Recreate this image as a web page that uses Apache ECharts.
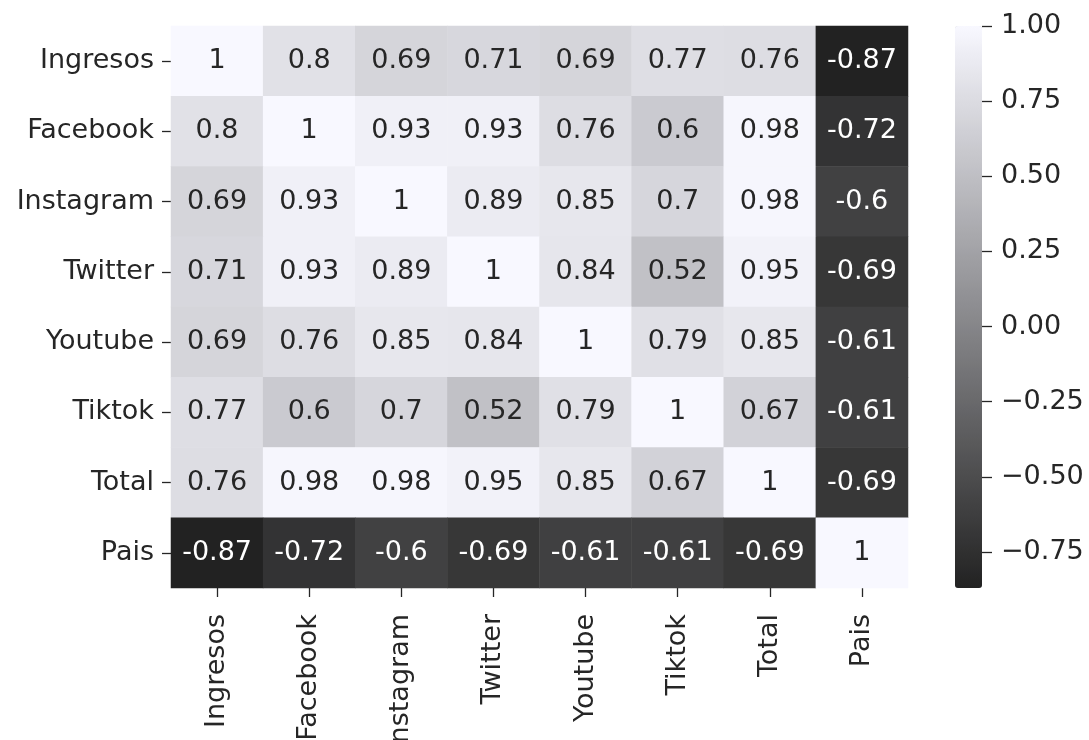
<!DOCTYPE html>
<html>
<head>
<meta charset="utf-8">
<script src="https://cdn.jsdelivr.net/npm/echarts@6/dist/echarts.min.js"></script>
<style>
  html, body { margin: 0; padding: 0; background: #fff; }
  #chart { width: 1089px; height: 740px; }
</style>
</head>
<body>
<div id="chart"></div>
<script>
// variables of the correlation matrix (rows and columns)
const variables = ['Ingresos', 'Facebook', 'Instagram', 'Twitter', 'Youtube', 'Tiktok', 'Total', 'Pais']

const ingresos = [1, 0.8, 0.69, 0.71, 0.69, 0.77, 0.76, -0.87]
const facebook = [0.8, 1, 0.93, 0.93, 0.76, 0.6, 0.98, -0.72]
const instagram = [0.69, 0.93, 1, 0.89, 0.85, 0.7, 0.98, -0.6]
const twitter = [0.71, 0.93, 0.89, 1, 0.84, 0.52, 0.95, -0.69]
const youtube = [0.69, 0.76, 0.85, 0.84, 1, 0.79, 0.85, -0.61]
const tiktok = [0.77, 0.6, 0.7, 0.52, 0.79, 1, 0.67, -0.61]
const total = [0.76, 0.98, 0.98, 0.95, 0.85, 0.67, 1, -0.69]
const pais = [-0.87, -0.72, -0.6, -0.69, -0.61, -0.61, -0.69, 1]

const rows = [ingresos, facebook, instagram, twitter, youtube, tiktok, total, pais]

// colorbar ticks
const cbarTicks = [-0.75, -0.5, -0.25, 0, 0.25, 0.5, 0.75, 1]
const cbarMin = -0.87
const cbarMax = 1

const textColor = '#262626'
const fontFamily = 'DejaVu Sans'
const fontSize = 27

const cells = []
rows.forEach((row, y) => {
  row.forEach((v, x) => {
    cells.push([x, y, v])
  })
})

const chart = echarts.init(document.getElementById('chart'))

const tickStyle = { color: textColor, width: 1.3 }

const option = {
  animation: false,
  textStyle: { fontFamily: fontFamily },
  grid: [
    { left: 171, top: 26, width: 737, height: 562, outerBoundsMode: 'none', containLabel: false },
    { left: 955, top: 26, width: 27, height: 562, outerBoundsMode: 'none', containLabel: false }
  ],
  xAxis: [
    {
      type: 'category',
      gridIndex: 0,
      data: variables,
      axisLine: { show: false },
      axisTick: { show: true, alignWithLabel: true, length: 9, lineStyle: tickStyle },
      axisLabel: { rotate: 90, fontSize: fontSize, color: textColor, margin: 26, fontFamily: fontFamily },
      splitArea: { show: false },
      splitLine: { show: false }
    },
    { type: 'value', gridIndex: 1, show: false, min: 0, max: 1 }
  ],
  yAxis: [
    {
      type: 'category',
      gridIndex: 0,
      data: variables,
      inverse: true,
      axisLine: { show: false },
      axisTick: { show: true, alignWithLabel: true, length: 9, lineStyle: tickStyle },
      axisLabel: { fontSize: fontSize, color: textColor, margin: 17, fontFamily: fontFamily },
      splitArea: { show: false },
      splitLine: { show: false }
    },
    {
      type: 'value',
      gridIndex: 1,
      position: 'right',
      min: cbarMin,
      max: cbarMax,
      axisLine: { show: true, onZero: false, lineStyle: { color: '#ffffff', opacity: 0 } },
      splitLine: { show: false },
      axisTick: {
        show: true,
        inside: false,
        length: 10,
        customValues: cbarTicks,
        lineStyle: tickStyle
      },
      axisLabel: {
        show: true,
        customValues: cbarTicks,
        fontSize: fontSize,
        color: textColor,
        margin: 19,
        fontFamily: fontFamily,
        formatter: function (v) {
          return (v < 0 ? '\u2212' : '') + Math.abs(v).toFixed(2)
        }
      }
    }
  ],
  visualMap: {
    type: 'continuous',
    seriesIndex: 0,
    dimension: 2,
    min: cbarMin,
    max: cbarMax,
    calculable: false,
    orient: 'vertical',
    left: 955,
    top: 26,
    itemWidth: 27,
    itemHeight: 562,
    padding: 0,
    text: null,
    showLabel: false,
    indicatorSize: 0,
    inRange: { color: ['#222222', '#f8f8ff'] }
  },
  series: [
    {
      type: 'heatmap',
      xAxisIndex: 0,
      yAxisIndex: 0,
      data: cells,
      emphasis: { disabled: true },
      label: {
        show: true,
        fontSize: fontSize,
        fontFamily: fontFamily,
        formatter: function (p) {
          const v = p.value[2]
          return (v > 0.33 ? '{d|' : '{l|') + String(v) + '}'
        },
        rich: {
          d: { color: textColor, fontSize: fontSize, fontFamily: fontFamily },
          l: { color: '#ffffff', fontSize: fontSize, fontFamily: fontFamily }
        }
      }
    }
  ]
}

chart.setOption(option)
</script>
</body>
</html>
